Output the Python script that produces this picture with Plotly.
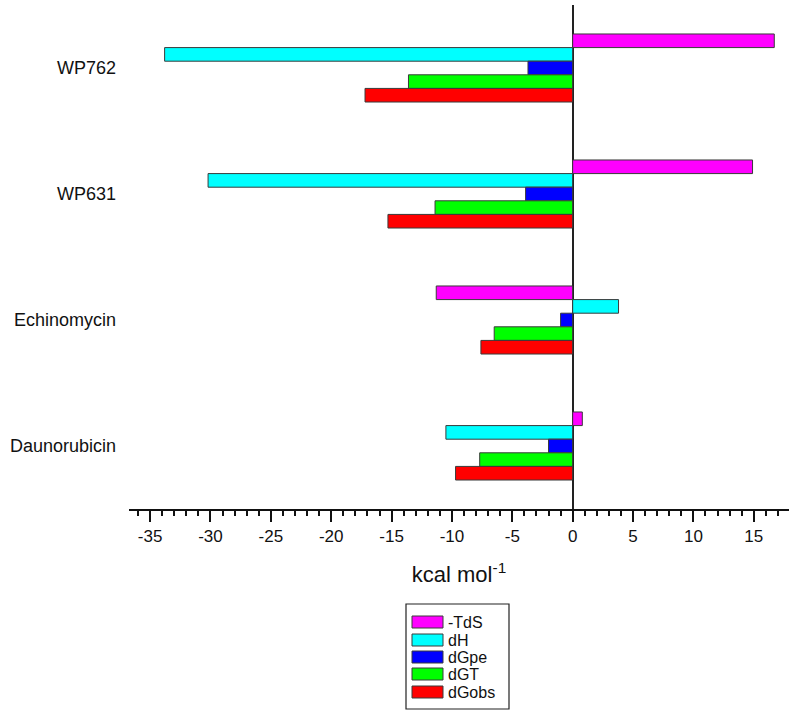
import plotly.graph_objects as go

categories = ["WP762", "WP631", "Echinomycin", "Daunorubicin"]
series_names = ["-TdS", "dH", "dGpe", "dGT", "dGobs"]
neg_TdS = [16.7, 14.9, -11.3, 0.8]
dH = [-33.8, -30.2, 3.8, -10.5]
dGpe = [-3.7, -3.9, -1.0, -2.0]
dGT = [-13.6, -11.4, -6.5, -7.7]
dGobs = [-17.2, -15.3, -7.6, -9.7]
series_values = [neg_TdS, dH, dGpe, dGT, dGobs]
colors = ["#FF00FF", "#00FFFF", "#0000FF", "#00FF00", "#FF0000"]
x_tickvals = [-35, -30, -25, -20, -15, -10, -5, 0, 5, 10, 15]
x_ticktext = ["-35", "-30", "-25", "-20", "-15", "-10", "-5", "0", "5", "10", "15"]

W, H = 800, 719
ML, MR, MT, MB = 129, 11, 5, 210
PW, PH = W - ML - MR, H - MT - MB
FONT = "Liberation Sans, Arial, sans-serif"

def px(xp):
    return (xp - ML) / PW

def py(yp):
    return (H - MB - yp) / PH

fig = go.Figure()
for name, vals, col in zip(series_names, series_values, colors):
    fig.add_trace(go.Bar(
        y=categories, x=vals, name=name, orientation="h",
        marker=dict(color=col, line=dict(color="#3a3a3a", width=1)),
        showlegend=False,
    ))

# custom legend (wide swatches like the reference)
shapes = [dict(type="rect", xref="paper", yref="paper",
               x0=px(406), x1=px(509), y0=py(709), y1=py(604),
               line=dict(color="#222", width=1.2), fillcolor="white", layer="above")]
annotations = []
row_centers = [622, 640, 657, 674, 692]
for name, col, yc in zip(series_names, colors, row_centers):
    shapes.append(dict(type="rect", xref="paper", yref="paper",
                       x0=px(412), x1=px(443), y0=py(yc + 6), y1=py(yc - 6),
                       line=dict(color="#3a3a3a", width=1), fillcolor=col, layer="above"))
    annotations.append(dict(xref="paper", yref="paper", x=px(446), y=py(yc),
                            text=name, showarrow=False, xanchor="left", yanchor="middle",
                            font=dict(family=FONT, size=16, color="#111")))

fig.update_layout(
    width=W, height=H,
    margin=dict(l=ML, r=MR, t=MT, b=MB, pad=0),
    plot_bgcolor="white", paper_bgcolor="white",
    barmode="group", bargap=0.46, bargroupgap=0,
    font=dict(family=FONT, color="#111"),
    shapes=shapes, annotations=annotations,
    xaxis=dict(
        range=[-36.75, 17.92],
        tickvals=x_tickvals, ticktext=x_ticktext,
        ticks="outside", ticklen=11, tickwidth=1.5, tickcolor="#111",
        minor=dict(dtick=1, ticks="outside", ticklen=5, tickwidth=1.5, tickcolor="#111"),
        showline=True, linecolor="#111", linewidth=2,
        showgrid=False,
        zeroline=True, zerolinecolor="#222", zerolinewidth=2,
        tickfont=dict(size=17, family=FONT),
        title=dict(text="kcal mol<sup>-1</sup>", font=dict(size=22, family=FONT), standoff=21),
    ),
    yaxis=dict(
        type="category",
        range=[3.5, -0.5],
        showgrid=False, showline=False, zeroline=False,
        ticks="", ticklabelstandoff=12,
        tickfont=dict(size=18, family=FONT),
    ),
)

fig.write_html("out.html", config={"displayModeBar": False},
               post_script="document.body.style.margin='0';")
